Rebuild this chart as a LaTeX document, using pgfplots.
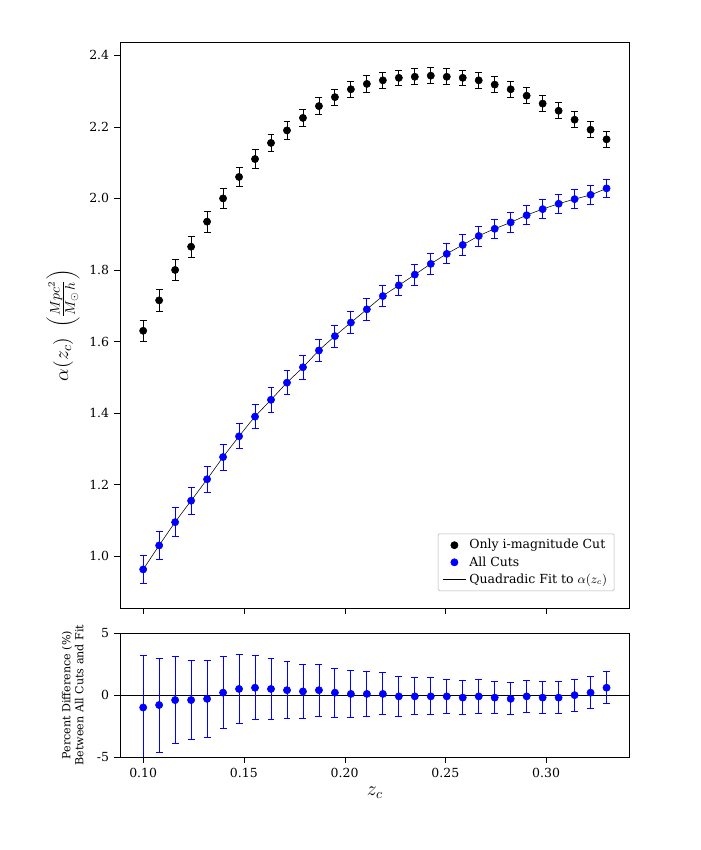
\documentclass[border=0pt]{standalone}
\usepackage{pgfplots}
\pgfplotsset{compat=1.18}
\usepackage{pgfplotstable}
\usepackage{fontspec}
\setmainfont{DejaVu Serif}
\pgfplotstableread{
x black be blue ue pd pe
0.10000 1.630 0.030 0.963 0.040 -1.0 4.2
0.10793 1.715 0.030 1.030 0.040 -0.8 3.8
0.11586 1.800 0.030 1.095 0.040 -0.4 3.5
0.12379 1.865 0.030 1.155 0.038 -0.4 3.2
0.13172 1.935 0.030 1.215 0.037 -0.3 3.1
0.13966 2.000 0.028 1.277 0.036 0.2 2.9
0.14759 2.060 0.027 1.335 0.035 0.5 2.8
0.15552 2.110 0.026 1.390 0.034 0.6 2.6
0.16345 2.155 0.025 1.437 0.034 0.5 2.5
0.17138 2.190 0.025 1.485 0.033 0.4 2.3
0.17931 2.225 0.024 1.528 0.033 0.3 2.2
0.18724 2.258 0.024 1.575 0.032 0.4 2.1
0.19517 2.283 0.023 1.615 0.031 0.2 2.0
0.20310 2.305 0.023 1.653 0.031 0.1 1.9
0.21103 2.320 0.023 1.690 0.030 0.1 1.8
0.21897 2.330 0.022 1.727 0.030 0.1 1.7
0.22690 2.337 0.022 1.757 0.029 -0.1 1.6
0.23483 2.340 0.022 1.787 0.029 -0.1 1.5
0.24276 2.343 0.022 1.817 0.029 -0.1 1.5
0.25069 2.340 0.022 1.845 0.028 -0.1 1.4
0.25862 2.337 0.022 1.870 0.028 -0.2 1.4
0.26655 2.330 0.022 1.895 0.028 -0.1 1.4
0.27448 2.318 0.022 1.915 0.027 -0.2 1.3
0.28241 2.305 0.022 1.933 0.027 -0.3 1.3
0.29034 2.287 0.022 1.953 0.027 -0.1 1.3
0.29828 2.265 0.022 1.970 0.027 -0.2 1.3
0.30621 2.245 0.022 1.985 0.026 -0.2 1.3
0.31414 2.220 0.022 1.998 0.026 0.0 1.3
0.32207 2.192 0.022 2.010 0.026 0.2 1.3
0.33000 2.165 0.022 2.028 0.026 0.6 1.3
}\data
\begin{document}
\begin{tikzpicture}
\path[use as bounding box] (0pt,0pt) rectangle (504pt,612pt);
\pgfplotsset{every axis/.append style={scale only axis, width=367pt, tick align=outside,
  xmin=0.0885, xmax=0.3415, xtick={0.10,0.15,...,0.30},
  /pgf/number format/assume math mode=true, tick label style={font=\small},
  tick style={black}, xtick pos=bottom, ytick pos=left,
  xticklabel style={/pgf/number format/fixed,/pgf/number format/precision=2,/pgf/number format/fixed zerofill},
  error bars/error mark options={rotate=90,mark size=2.5pt,line width=0.6pt}}}
\begin{axis}[at={(86.4pt,174.2pt)}, anchor=south west, height=407pt,
  ymin=0.855, ymax=2.435, ytick={1.0,1.2,...,2.4},
  yticklabel style={/pgf/number format/fixed,/pgf/number format/precision=1,/pgf/number format/fixed zerofill},
  xticklabels={},
  ylabel={\Large$\alpha(z_c)\ \left(\frac{Mpc^2}{M_\odot\, h}\right)$},
  legend pos=south east, legend cell align=left, legend style={font=\small, draw=black!30, rounded corners=1pt}]
\addplot[black, only marks, mark=*, mark size=2.6pt, error bars/.cd, y dir=both, y explicit, error bar style={black,line width=0.6pt}]
  table[x=x,y=black,y error=be]{\data};
\addlegendentry{Only i-magnitude Cut}
\addplot[blue, only marks, mark=*, mark size=2.6pt, error bars/.cd, y dir=both, y explicit, error bar style={blue,line width=0.6pt}]
  table[x=x,y=blue,y error=ue]{\data};
\addlegendentry{All Cuts}
\addplot[black, thin, smooth, forget plot] table[x=x,y=blue]{\data};
\addlegendimage{black, thin}
\addlegendentry{Quadradic Fit to $\alpha(z_c)$}
\node[anchor=south west, font=\small] at (rel axis cs:0,1) {1e$-$17};
\end{axis}
\begin{axis}[at={(86.4pt,67pt)}, anchor=south west, height=89pt,
  ymin=-5, ymax=5, ytick={-5,0,5},
  xlabel={\Large$z_c$},
  ylabel={\footnotesize\begin{tabular}{c}Percent Difference (\%)\\Between All Cuts and Fit\end{tabular}}]
\addplot[black, thin, forget plot] coordinates {(0.0885,0) (0.3415,0)};
\addplot[blue, only marks, mark=*, mark size=2.6pt, error bars/.cd, y dir=both, y explicit, error bar style={blue,line width=0.6pt}]
  table[x=x,y=pd,y error=pe]{\data};
\end{axis}
\end{tikzpicture}
\end{document}
